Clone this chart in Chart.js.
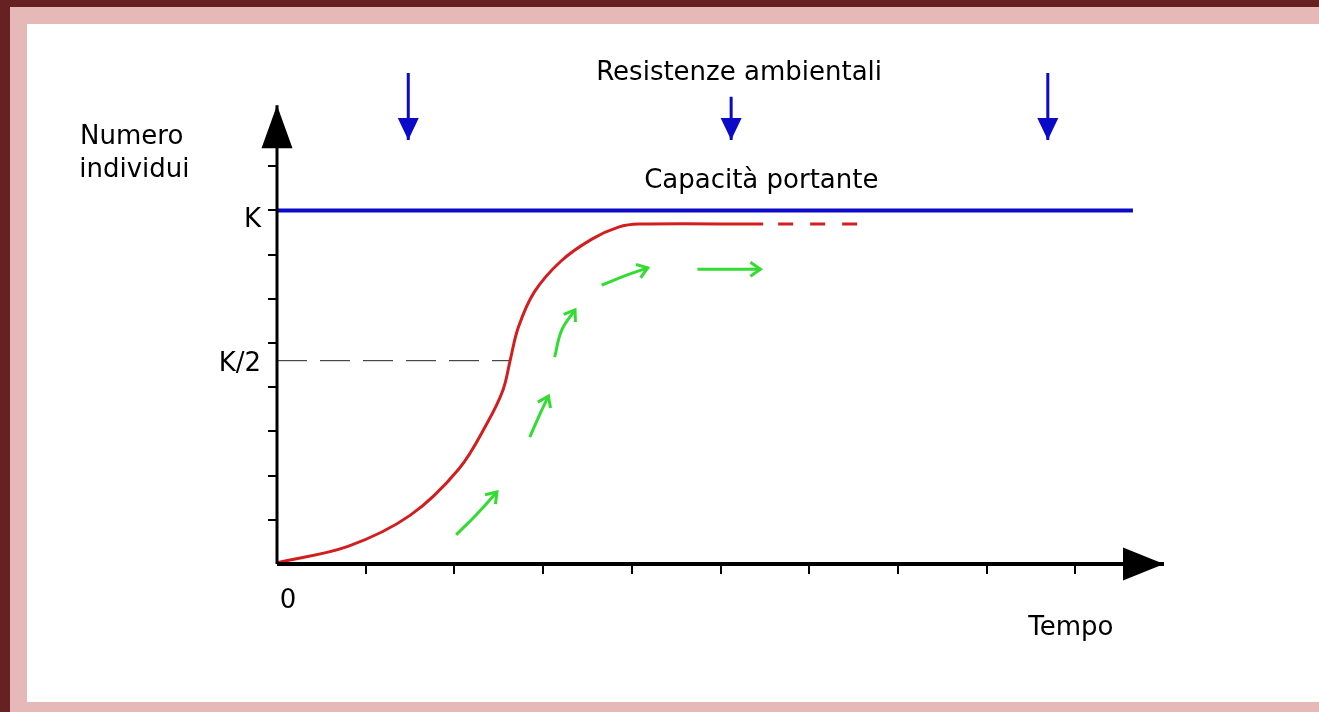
<!DOCTYPE html>
<html>
<head>
<meta charset="utf-8">
<script src="https://cdn.jsdelivr.net/npm/chart.js@4/dist/chart.umd.min.js"></script>
<style>
  html, body { margin: 0; padding: 0; }
  body { width: 1319px; height: 712px; background: #662222; position: relative; overflow: hidden; }
  #pink { position: absolute; left: 10px; top: 7px; right: 0; bottom: 0; background: #e6b8b8; }
  #white { position: absolute; left: 27px; top: 24px; right: 0; bottom: 10px; background: #ffffff; }
  #chart { position: absolute; left: 0; top: 0; }
</style>
</head>
<body>
<div id="pink"></div>
<div id="white"></div>
<canvas id="chart" width="1319" height="712"></canvas>
<script>
// Valori (unità: una tacca dell'asse)
const xTicks = [1, 2, 3, 4, 5, 6, 7, 8, 9];
const yTicks = [1, 2, 3, 4, 5, 6, 7, 8, 9];
const K = 8;
const halfK = 4.6;

// curva logistica (rossa)
const curveX = [0, 0.8, 1.5, 2.05, 2.37, 2.55, 2.63, 2.72, 2.90, 3.20, 3.55, 3.85, 4.08, 5.48];
const curveY = [0.03, 0.4, 1.1, 2.15, 3.19, 3.95, 4.62, 5.35, 6.15, 6.85, 7.35, 7.62, 7.69, 7.69];
const plateauDashX = [5.65, 6.55];
const plateauY = 7.69;

// capacità portante (blu)
const capacityX = [0, 9.65];

// resistenze ambientali: frecce blu
const resistX = [1.48, 5.12, 8.69];
const resistTop = [11.11, 10.57, 11.11];
const resistTip = 9.59;

// frecce verdi
const greenArrows = [
  [[2.02, 0.66], [2.25, 1.12], [2.48, 1.63]],
  [[2.85, 2.87], [2.95, 3.33], [3.06, 3.80]],
  [[3.13, 4.68], [3.21, 5.29], [3.36, 5.75]],
  [[3.66, 6.31], [3.95, 6.54], [4.18, 6.70]],
  [[4.74, 6.67], [5.45, 6.67]]
];

// etichette
const labels = [
  { text: 'Resistenze ambientali', x: 5.21, y: 10.95, align: 'center' },
  { text: 'Capacità portante', x: 5.46, y: 8.51, align: 'center' },
  { text: 'Numero', x: -2.22, y: 9.50, align: 'left' },
  { text: 'individui', x: -2.23, y: 8.76, align: 'left' },
  { text: 'K', x: -0.18, y: 7.62, align: 'right' },
  { text: 'K/2', x: -0.18, y: 4.37, align: 'right' },
  { text: '0', x: 0.03, y: -1.0, align: 'left' },
  { text: 'Tempo', x: 8.47, y: -1.61, align: 'left' }
];

const pts = (xs, ys) => xs.map((x, i) => ({ x: x, y: Array.isArray(ys) ? ys[i] : ys }));

const RED = '#d21e1e';
const BLUE = '#0a0ac8';
const GREEN = '#32dc32';

const datasets = [];

// assi
datasets.push({ data: [{x: 0, y: 0}, {x: 10, y: 0}], borderColor: '#000', borderWidth: 4,
  arrowHead: { length: 41, width: 33, fill: true, color: '#000' } });
datasets.push({ data: [{x: 0, y: 0}, {x: 0, y: 10.38}], borderColor: '#000', borderWidth: 3,
  arrowHead: { length: 43, width: 31, fill: true, color: '#000' } });

datasets.push({ data: pts(capacityX, K), borderColor: BLUE, borderWidth: 4 });

resistX.forEach((x, i) => {
  datasets.push({ data: [{x: x, y: resistTop[i]}, {x: x, y: resistTip}], borderColor: BLUE, borderWidth: 3,
    arrowHead: { length: 22, width: 21, fill: true, color: BLUE } });
});

datasets.push({ data: pts(curveX, curveY), borderColor: RED, borderWidth: 3, tension: 0.35 });
datasets.push({ data: pts(plateauDashX, plateauY), borderColor: RED, borderWidth: 3, borderDash: [15, 17] });

greenArrows.forEach(a => {
  datasets.push({ data: a.map(p => ({x: p[0], y: p[1]})), borderColor: GREEN, borderWidth: 3, tension: 0.4,
    arrowHead: { length: 10, width: 14, fill: false, color: GREEN } });
});

datasets.push({ data: [{x: 0, y: halfK}, {x: 2.62, y: halfK}], borderColor: '#222', borderWidth: 1, borderDash: [30, 13] });

datasets.forEach(d => {
  d.showLine = true;
  d.pointRadius = 0;
  d.clip = false;
  d.fill = false;
  if (d.tension === undefined) d.tension = 0;
});

const arrowPlugin = {
  id: 'arrowHeads',
  afterDatasetsDraw(chart) {
    const ctx = chart.ctx;
    chart.data.datasets.forEach((ds, i) => {
      if (!ds.arrowHead) return;
      const pts = chart.getDatasetMeta(i).data;
      const a = pts[pts.length - 2], b = pts[pts.length - 1];
      const ang = Math.atan2(b.y - a.y, b.x - a.x);
      const h = ds.arrowHead;
      ctx.save();
      ctx.translate(b.x, b.y);
      ctx.rotate(ang);
      ctx.beginPath();
      ctx.moveTo(-h.length, -h.width / 2);
      ctx.lineTo(0, 0);
      ctx.lineTo(-h.length, h.width / 2);
      if (h.fill) {
        ctx.closePath();
        ctx.fillStyle = h.color;
        ctx.fill();
      } else {
        ctx.strokeStyle = h.color;
        ctx.lineWidth = 3;
        ctx.lineJoin = 'miter';
        ctx.stroke();
      }
      ctx.restore();
    });
  }
};

const axisPlugin = {
  id: 'axisDecor',
  afterDatasetsDraw(chart) {
    const ctx = chart.ctx;
    const sx = chart.scales.x, sy = chart.scales.y;
    const x0 = sx.getPixelForValue(0), y0 = sy.getPixelForValue(0);
    ctx.save();
    ctx.strokeStyle = '#000';
    ctx.lineWidth = 2;
    xTicks.forEach(t => {
      const px = Math.round(sx.getPixelForValue(t));
      ctx.beginPath(); ctx.moveTo(px, y0); ctx.lineTo(px, y0 + 10); ctx.stroke();
    });
    yTicks.forEach(t => {
      const py = Math.round(sy.getPixelForValue(t));
      ctx.beginPath(); ctx.moveTo(x0, py); ctx.lineTo(x0 - 9, py); ctx.stroke();
    });
    ctx.fillStyle = '#000';
    ctx.font = '26px "DejaVu Sans"';
    ctx.textBaseline = 'alphabetic';
    labels.forEach(l => {
      ctx.textAlign = l.align;
      ctx.fillText(l.text, sx.getPixelForValue(l.x), sy.getPixelForValue(l.y));
    });
    ctx.restore();
  }
};

new Chart(document.getElementById('chart'), {
  type: 'scatter',
  data: { datasets: datasets },
  options: {
    responsive: false,
    animation: false,
    devicePixelRatio: 1,
    events: [],
    layout: { padding: { left: 277, right: 155, top: 122, bottom: 148 } },
    scales: {
      x: { type: 'linear', min: 0, max: 10, display: false },
      y: { type: 'linear', min: 0, max: 10, display: false }
    },
    plugins: { legend: { display: false }, tooltip: { enabled: false } }
  },
  plugins: [arrowPlugin, axisPlugin]
});
</script>
</body>
</html>
